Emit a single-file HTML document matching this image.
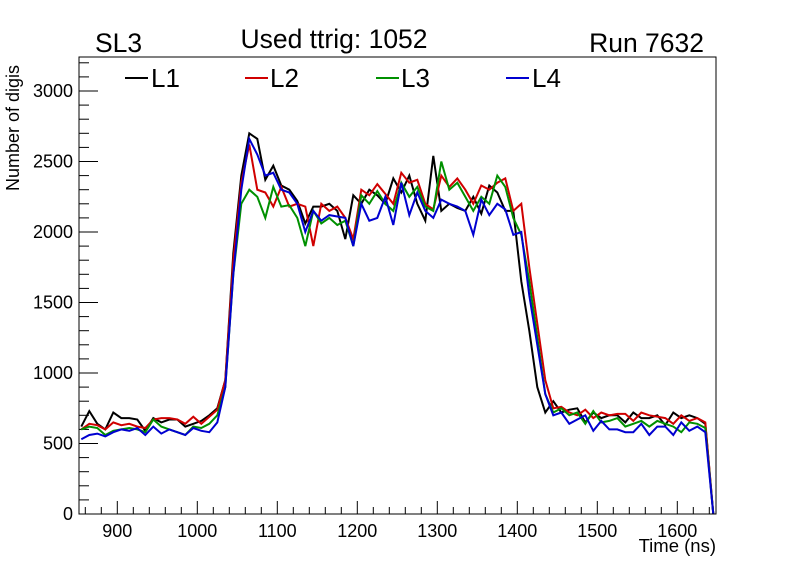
<!DOCTYPE html>
<html><head><meta charset="utf-8"><style>
body{margin:0;background:#fff;}
svg text{font-family:"Liberation Sans",sans-serif;}
</style></head><body>
<svg id="s" width="796" height="572" viewBox="0 0 796 572" xmlns="http://www.w3.org/2000/svg">
<rect width="796" height="572" fill="#fff"/>
<g id="ax" stroke="#000" stroke-width="1" fill="none"></g>
<g id="series" fill="none" stroke-width="2" stroke-linejoin="miter"></g>
<rect x="79" y="57" width="637" height="457" fill="none" stroke="#000" stroke-width="1"/>
<g font-size="18" fill="#000" id="lbl"></g>
<text x="95" y="52" font-size="26.5">SL3</text>
<text x="334" y="48" font-size="26.5" text-anchor="middle">Used ttrig: 1052</text>
<text x="704" y="52" font-size="26.5" text-anchor="end">Run 7632</text>
<line x1="125" y1="78" x2="148" y2="78" stroke="#000" stroke-width="2"/><text x="151" y="87" font-size="26">L1</text>
<line x1="245" y1="78" x2="268" y2="78" stroke="#d00000" stroke-width="2"/><text x="270" y="87" font-size="26">L2</text>
<line x1="376" y1="78" x2="399" y2="78" stroke="#009000" stroke-width="2"/><text x="401" y="87" font-size="26">L3</text>
<line x1="506" y1="78" x2="529" y2="78" stroke="#0000d0" stroke-width="2"/><text x="532" y="87" font-size="26">L4</text>
<text x="716" y="552" font-size="18.5" text-anchor="end">Time (ns)</text>
<text transform="translate(19,191) rotate(-90)" font-size="18" text-anchor="start">Number of digis</text>
</svg>
<script>
const X=t=>117.3+(t-900)*0.8, Y=v=>514-v*0.141;
const ax=document.getElementById('ax'), lbl=document.getElementById('lbl');
let h='';
for(let v=0;v<=3200;v+=100){const y=Y(v);h+=`<line x1="79" y1="${y}" x2="${79+(v%500==0?19:10)}" y2="${y}"/>`;
 if(v%500==0) lbl.innerHTML+=`<text x="73" y="${y+6}" text-anchor="end">${v}</text>`;}
for(let t=860;t<=1640;t+=20){const x=X(t);h+=`<line x1="${x}" y1="514" x2="${x}" y2="${514-(t%100==0?13:7)}"/>`;
 if(t%100==0) lbl.innerHTML+=`<text x="${x}" y="537" text-anchor="middle">${t}</text>`;}
ax.innerHTML=h;
const D={
"#000":[620,730,640,600,720,680,680,670,590,680,650,670,670,620,640,660,700,750,950,1850,2400,2700,2660,2370,2470,2330,2300,2220,2060,2180,2180,2200,2150,1950,2260,2200,2300,2260,2200,2380,2280,2400,2200,2080,2540,2150,2200,2170,2150,2250,2130,2330,2280,2150,2150,1650,1300,900,720,800,720,740,750,650,720,680,700,700,650,720,680,680,700,630,720,680,700,680,640],
"#d00000":[600,640,630,600,650,630,640,620,610,670,680,680,670,640,690,640,690,740,950,1800,2350,2620,2300,2280,2180,2320,2180,2200,2180,1900,2200,2150,2180,2100,1950,2300,2260,2340,2270,2200,2420,2350,2370,2200,2160,2400,2320,2380,2300,2200,2330,2300,2350,2380,2150,2200,1750,1350,950,750,760,720,700,740,680,720,700,710,710,660,720,700,690,680,640,700,660,680,650],
"#009000":[600,620,610,560,590,600,610,600,580,670,620,600,580,560,620,610,640,700,900,1700,2200,2300,2250,2100,2320,2180,2190,2100,1900,2150,2060,2100,2050,2080,1900,2260,2200,2290,2200,2150,2350,2250,2320,2180,2150,2500,2300,2350,2250,2150,2250,2200,2400,2320,2100,1980,1650,1250,850,720,750,700,720,640,730,650,660,680,620,640,660,620,660,640,620,580,650,640,610],
"#0000d0":[530,560,570,550,580,600,590,610,560,620,570,600,580,560,610,590,580,650,900,1700,2300,2660,2550,2400,2420,2300,2280,2200,2000,2150,2080,2120,2110,2100,1900,2200,2080,2100,2250,2050,2350,2120,2280,2150,2100,2230,2200,2180,2150,1980,2230,2120,2200,2160,1980,2000,1550,1200,850,700,720,640,670,700,590,660,600,600,580,580,640,560,620,620,560,650,590,620,580]};
let s='';
for(const c in D){const p=D[c].map((v,i)=>X(855+10*i).toFixed(1)+','+Y(v).toFixed(1));p.push(X(1645).toFixed(1)+','+Y(0));
 s+=`<polyline stroke="${c}" points="${p.join(' ')}"/>`;}
document.getElementById('series').innerHTML=s;
</script>
</body></html>
